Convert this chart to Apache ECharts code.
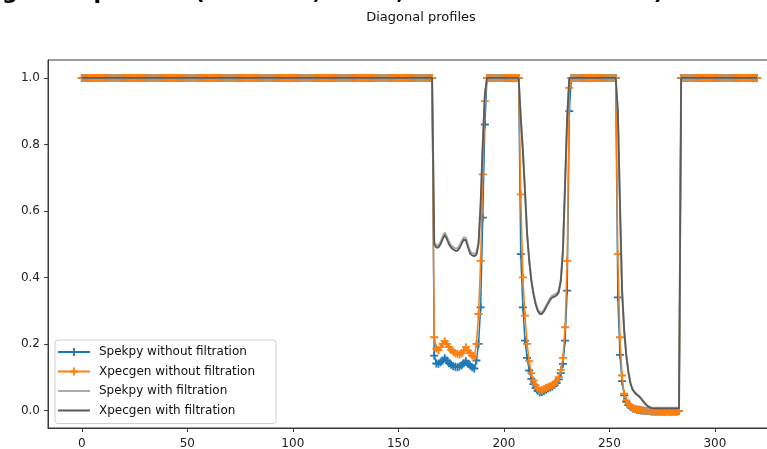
<!DOCTYPE html>
<html>
<head>
<meta charset="utf-8">
<script src="https://cdn.jsdelivr.net/npm/echarts@6/dist/echarts.min.js"></script>
<style>
  html, body { margin: 0; padding: 0; background: #ffffff; }
  #chart { width: 767px; height: 449px; }
</style>
</head>
<body>
<div id="chart"></div>
<script>
// Pixel index along the diagonal
const firstIndex = 0;
const lastIndex = 320;
// Unattenuated level outside the three absorbers
const openFieldLevel = 1.0;

// Trough 1 (indices 167..191)
const trough1Start = 167;
const spekpyRaw1 = [0.165, 0.141, 0.140, 0.145, 0.150, 0.157, 0.150, 0.142, 0.137, 0.133, 0.131, 0.130, 0.132, 0.136, 0.142, 0.148, 0.140, 0.135, 0.130, 0.126, 0.150, 0.200, 0.310, 0.580, 0.860];
const xpecgenRaw1 = [0.220, 0.186, 0.181, 0.190, 0.200, 0.208, 0.200, 0.190, 0.182, 0.176, 0.172, 0.170, 0.168, 0.172, 0.180, 0.190, 0.180, 0.172, 0.165, 0.161, 0.200, 0.290, 0.450, 0.710, 0.930];
const spekpyFilt1 = [0.506, 0.497, 0.496, 0.507, 0.522, 0.535, 0.522, 0.507, 0.497, 0.491, 0.487, 0.487, 0.495, 0.509, 0.521, 0.519, 0.497, 0.479, 0.473, 0.471, 0.475, 0.505, 0.620, 0.800, 0.950];
const xpecgenFilt1 = [0.500, 0.490, 0.490, 0.500, 0.515, 0.528, 0.515, 0.500, 0.490, 0.484, 0.480, 0.480, 0.488, 0.502, 0.514, 0.512, 0.490, 0.472, 0.466, 0.464, 0.468, 0.500, 0.620, 0.800, 0.950];

// Trough 2 (indices 208..231)
const trough2Start = 208;
const spekpyRaw2 = [0.470, 0.310, 0.210, 0.158, 0.120, 0.095, 0.079, 0.067, 0.059, 0.054, 0.055, 0.058, 0.062, 0.066, 0.069, 0.072, 0.076, 0.082, 0.093, 0.112, 0.140, 0.210, 0.360, 0.900];
const xpecgenRaw2 = [0.650, 0.400, 0.285, 0.200, 0.148, 0.112, 0.090, 0.076, 0.066, 0.060, 0.061, 0.064, 0.067, 0.070, 0.073, 0.076, 0.080, 0.087, 0.100, 0.122, 0.158, 0.250, 0.450, 0.970];
const spekpyFilt2 = [0.880, 0.785, 0.665, 0.535, 0.455, 0.395, 0.355, 0.325, 0.305, 0.295, 0.295, 0.303, 0.315, 0.327, 0.338, 0.346, 0.348, 0.352, 0.360, 0.395, 0.485, 0.680, 0.880, 1.000];
const xpecgenFilt2 = [0.880, 0.780, 0.660, 0.530, 0.450, 0.390, 0.350, 0.320, 0.300, 0.290, 0.290, 0.298, 0.310, 0.322, 0.333, 0.340, 0.342, 0.346, 0.355, 0.390, 0.480, 0.680, 0.880, 1.000];

// Trough 3 (indices 254..283)
const trough3Start = 254;
const spekpyRaw3 = [0.340, 0.167, 0.088, 0.045, 0.026, 0.016, 0.010, 0.006, 0.004, 0.002, 0.001, 0.000, -0.001, -0.002, -0.002, -0.002, -0.003, -0.003, -0.003, -0.003, -0.003, -0.003, -0.004, -0.003, -0.003, -0.004, -0.003, -0.003, -0.003, -0.002];
const xpecgenRaw3 = [0.470, 0.220, 0.105, 0.050, 0.030, 0.019, 0.012, 0.008, 0.005, 0.003, 0.002, 0.001, 0.000, -0.001, -0.002, -0.002, -0.003, -0.003, -0.003, -0.004, -0.003, -0.004, -0.004, -0.003, -0.004, -0.004, -0.003, -0.004, -0.003, -0.002];
const spekpyFilt3 = [0.900, 0.625, 0.365, 0.243, 0.168, 0.118, 0.083, 0.064, 0.055, 0.049, 0.044, 0.037, 0.029, 0.021, 0.015, 0.011, 0.009, 0.008, 0.008, 0.008, 0.008, 0.008, 0.008, 0.008, 0.008, 0.008, 0.008, 0.008, 0.008, 0.008];
const xpecgenFilt3 = [0.900, 0.620, 0.360, 0.240, 0.165, 0.115, 0.080, 0.062, 0.053, 0.047, 0.042, 0.035, 0.027, 0.019, 0.013, 0.009, 0.007, 0.006, 0.006, 0.006, 0.006, 0.006, 0.006, 0.006, 0.006, 0.006, 0.006, 0.006, 0.006, 0.006];

// Axis tick values
const xTicks = [0, 50, 100, 150, 200, 250, 300];
const yTicks = [0.0, 0.2, 0.4, 0.6, 0.8, 1.0];

const seriesNames = [
  'Spekpy without filtration',
  'Xpecgen without filtration',
  'Spekpy with filtration',
  'Xpecgen with filtration'
];

// Assemble a full profile: open-field level everywhere except the troughs
function profile(troughs) {
  const out = [];
  for (let i = firstIndex; i <= lastIndex; i++) {
    let v = openFieldLevel;
    for (const t of troughs) {
      const k = i - t.start;
      if (k >= 0 && k < t.values.length) v = t.values[k];
    }
    out.push([i, v]);
  }
  return out;
}

const spekpyRaw = profile([
  { start: trough1Start, values: spekpyRaw1 },
  { start: trough2Start, values: spekpyRaw2 },
  { start: trough3Start, values: spekpyRaw3 }
]);
const xpecgenRaw = profile([
  { start: trough1Start, values: xpecgenRaw1 },
  { start: trough2Start, values: xpecgenRaw2 },
  { start: trough3Start, values: xpecgenRaw3 }
]);
const spekpyFilt = profile([
  { start: trough1Start, values: spekpyFilt1 },
  { start: trough2Start, values: spekpyFilt2 },
  { start: trough3Start, values: spekpyFilt3 }
]);
const xpecgenFilt = profile([
  { start: trough1Start, values: xpecgenFilt1 },
  { start: trough2Start, values: xpecgenFilt2 },
  { start: trough3Start, values: xpecgenFilt3 }
]);

const FONT = 'DejaVu Sans';
const plusMarker = 'path://M-0.9,-4 L0.9,-4 L0.9,-0.9 L4,-0.9 L4,0.9 L0.9,0.9 L0.9,4 L-0.9,4 L-0.9,0.9 L-4,0.9 L-4,-0.9 L-0.9,-0.9 Z';

const chart = echarts.init(document.getElementById('chart'), null, { renderer: 'canvas' });

chart.setOption({
  animation: false,
  backgroundColor: '#ffffff',
  title: [{
    text: 'Diagonal profiles',
    left: 421,
    textAlign: 'center',
    top: 11,
    padding: 0,
    textStyle: { fontFamily: FONT, fontSize: 13, fontWeight: 'normal', color: '#111' }
  }],
  graphic: [{
    type: 'text',
    x: -44,
    y: -18,
    silent: true,
    style: {
      text: 'Image line profiles (W anode, 80 kV, 2.5 mm Al filtration)',
      font: 'bold 22px "DejaVu Sans"',
      fill: '#000'
    }
  }],
  grid: {
    left: 48,
    top: 60,
    right: -26,
    bottom: 21,
    outerBoundsMode: 'none',
    show: true,
    borderColor: '#3a3a3a',
    borderWidth: 1,
    backgroundColor: 'transparent'
  },
  legend: {
    orient: 'vertical',
    left: 55,
    top: 340,
    padding: [6, 21, 7, 2],
    itemWidth: 32,
    itemHeight: 10,
    itemGap: 7.5,
    backgroundColor: 'rgba(255,255,255,0.85)',
    borderColor: '#cfcfcf',
    borderWidth: 1,
    borderRadius: 3,
    textStyle: { fontFamily: FONT, fontSize: 12, color: '#111', padding: [0, 0, 0, 4] },
    data: [
      { name: seriesNames[0] },
      { name: seriesNames[1] },
      { name: seriesNames[2], itemStyle: { opacity: 0 } },
      { name: seriesNames[3], itemStyle: { opacity: 0 } }
    ]
  },
  xAxis: {
    type: 'value',
    min: -16,
    max: 337,
    splitLine: { show: false },
    axisLine: { show: true, onZero: false, lineStyle: { color: '#3a3a3a', width: 1 } },
    axisTick: { show: true, length: 4, customValues: xTicks, lineStyle: { color: '#3a3a3a' } },
    axisLabel: {
      customValues: xTicks,
      margin: 10,
      fontFamily: FONT, fontSize: 12, color: '#222'
    }
  },
  yAxis: {
    type: 'value',
    min: -0.053,
    max: 1.054,
    splitLine: { show: false },
    axisLine: { show: true, onZero: false, lineStyle: { color: '#3a3a3a', width: 1 } },
    axisTick: { show: true, length: 4, customValues: yTicks, lineStyle: { color: '#3a3a3a' } },
    axisLabel: {
      customValues: yTicks,
      margin: 8,
      formatter: v => v.toFixed(1),
      fontFamily: FONT, fontSize: 12, color: '#222'
    }
  },
  series: [
    {
      name: seriesNames[0], type: 'line', data: spekpyRaw, z: 2,
      symbol: plusMarker, symbolSize: 8, showSymbol: true,
      lineStyle: { color: '#1f77b4', width: 1.5 },
      itemStyle: { color: '#1f77b4' },
      emphasis: { disabled: true }
    },
    {
      name: seriesNames[1], type: 'line', data: xpecgenRaw, z: 3,
      symbol: plusMarker, symbolSize: 8, showSymbol: true,
      lineStyle: { color: '#ff7f0e', width: 1.5 },
      itemStyle: { color: '#ff7f0e' },
      emphasis: { disabled: true }
    },
    {
      name: seriesNames[2], type: 'line', data: spekpyFilt, z: 4,
      symbol: 'none',
      lineStyle: { color: '#ababab', width: 2 },
      itemStyle: { color: '#ababab' },
      emphasis: { disabled: true }
    },
    {
      name: seriesNames[3], type: 'line', data: xpecgenFilt, z: 5,
      symbol: 'none',
      lineStyle: { color: '#5a5a5a', width: 1.8 },
      itemStyle: { color: '#5a5a5a' },
      emphasis: { disabled: true }
    }
  ]
});
</script>
</body>
</html>
